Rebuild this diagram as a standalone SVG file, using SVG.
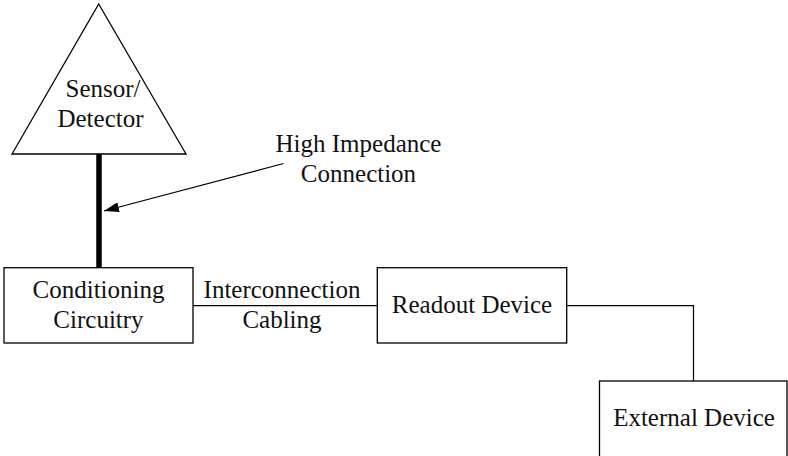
<svg xmlns="http://www.w3.org/2000/svg" width="788" height="456" viewBox="0 0 788 456">
<defs>
<style>
.box{fill:#fff;stroke:#000;stroke-width:1.3}
.t{font-family:'Liberation Serif','Times New Roman',serif;font-size:25px;fill:#111;text-anchor:middle}
.ln{fill:none;stroke:#000;stroke-width:1.2}
</style>
<marker id="ah" markerWidth="15" markerHeight="10" refX="15" refY="5" orient="auto" markerUnits="userSpaceOnUse">
<path d="M0,0 L15,5 L0,10 Z" fill="#000"/>
</marker>
</defs>
<rect width="788" height="456" fill="#fff"/>
<g id="connectors">
<line x1="99" y1="153" x2="99" y2="268" stroke="#000" stroke-width="5.5"/>
<line class="ln" x1="283.5" y1="163.5" x2="104" y2="211" marker-end="url(#ah)"/>
<line class="ln" x1="193" y1="305.7" x2="377" y2="305.7"/>
<polyline class="ln" points="567,305.7 693.5,305.7 693.5,381"/>
</g>
<g id="sensor">
<polygon class="box" points="98.7,4 186,154 12,154"/>
<text class="t" x="103" y="96.5">Sensor/</text>
<text class="t" x="100.5" y="126.5">Detector</text>
</g>
<g id="hi-label">
<text class="t" x="358.5" y="151.5">High Impedance</text>
<text class="t" x="358.5" y="181.5">Connection</text>
</g>
<g id="conditioning">
<rect class="box" x="4" y="267.7" width="189" height="75.3"/>
<text class="t" x="98.5" y="298">Conditioning</text>
<text class="t" x="98.5" y="328">Circuitry</text>
</g>
<g id="cable-label">
<text class="t" x="282" y="297.5">Interconnection</text>
<text class="t" x="282" y="327.5">Cabling</text>
</g>
<g id="readout">
<rect class="box" x="377.3" y="267.7" width="189.4" height="75.3"/>
<text class="t" x="472" y="312.5">Readout Device</text>
</g>
<g id="external">
<rect class="box" x="599.5" y="381" width="187.5" height="80"/>
<text class="t" x="694" y="426">External Device</text>
</g>
</svg>
